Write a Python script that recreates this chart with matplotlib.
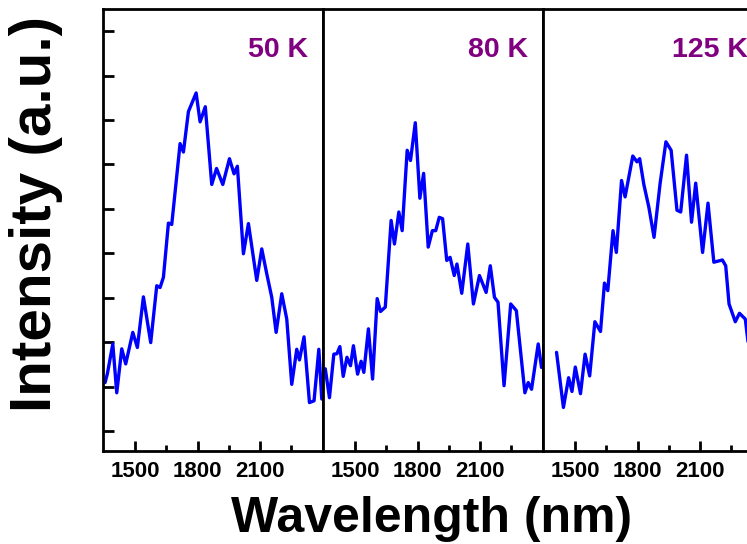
import matplotlib
matplotlib.use("Agg")
import matplotlib.pyplot as plt
from matplotlib.ticker import MultipleLocator

# ---------- data ----------

temps = ["50 K", "80 K", "125 K"]

wl_50 = [1356, 1367, 1393, 1412, 1436, 1455, 1489, 1511, 1540, 1575, 1604, 1620,
         1636, 1660, 1676, 1716, 1732, 1756, 1793, 1812, 1837, 1868, 1891, 1921,
         1953, 1975, 1991, 2020, 2044, 2084, 2108, 2132, 2156, 2177, 2204, 2228,
         2252, 2276, 2289, 2311, 2337, 2359, 2382, 2396]
int_50 = [1.09, 1.29, 1.96, 0.86, 1.85, 1.51, 2.22, 1.88, 3.02, 1.99, 3.27, 3.23,
          3.46, 4.68, 4.65, 6.47, 6.28, 7.19, 7.61, 6.96, 7.30, 5.55, 5.91, 5.55,
          6.13, 5.79, 5.96, 3.99, 4.67, 3.39, 4.10, 3.54, 3.01, 2.22, 3.09, 2.52,
          1.05, 1.84, 1.60, 2.12, 0.64, 0.68, 1.84, 0.72]

wl_80 = [1357, 1377, 1398, 1413, 1427, 1443, 1461, 1478, 1492, 1512, 1529, 1542,
         1564, 1584, 1606, 1622, 1645, 1673, 1689, 1710, 1726, 1750, 1766, 1789,
         1811, 1829, 1851, 1871, 1887, 1904, 1920, 1940, 1956, 1976, 1989, 2012,
         2041, 2068, 2097, 2129, 2149, 2169, 2186, 2215, 2247, 2274, 2315, 2331,
         2347, 2379, 2395]
int_80 = [1.40, 0.75, 1.73, 1.74, 1.90, 1.23, 1.66, 1.47, 1.92, 1.28, 1.57, 1.32,
          2.30, 1.17, 2.98, 2.69, 2.79, 4.74, 4.21, 4.93, 4.51, 6.32, 6.09, 6.94,
          5.24, 5.80, 4.14, 4.51, 4.51, 4.81, 4.78, 3.84, 3.91, 3.50, 3.76, 3.10,
          4.21, 2.86, 3.50, 3.12, 3.72, 3.01, 2.90, 1.02, 2.86, 2.71, 0.86, 1.09,
          0.94, 1.96, 1.43]

wl_125 = [1411, 1444, 1469, 1485, 1501, 1526, 1548, 1570, 1595, 1622, 1641, 1657,
          1682, 1698, 1723, 1740, 1777, 1797, 1810, 1830, 1854, 1879, 1908, 1936,
          1961, 1989, 2007, 2035, 2059, 2079, 2112, 2138, 2166, 2207, 2223, 2239,
          2269, 2289, 2317, 2341, 2355, 2375]
int_125 = [1.77, 0.53, 1.20, 0.89, 1.44, 0.84, 1.73, 1.24, 2.46, 2.24, 3.33, 3.16,
           4.51, 4.02, 5.64, 5.27, 6.19, 6.06, 6.13, 5.55, 5.04, 4.36, 5.57, 6.51,
           6.32, 4.97, 4.93, 6.21, 4.70, 5.58, 4.02, 5.13, 3.80, 3.85, 3.72, 2.86,
           2.46, 2.65, 2.52, 1.58, 1.69, 1.55]

wavelengths = [wl_50, wl_80, wl_125]
intensities = [int_50, int_80, int_125]

x_major = [1500, 1800, 2100]
x_minor = [1650, 1950, 2250]

# ---------- figure ----------

plt.rcParams["font.family"] = "Liberation Sans"
plt.rcParams["font.weight"] = "bold"

fig = plt.figure(figsize=(7.47, 5.44), dpi=100)

W, H = 747, 544
panel_w = 220
top_px, bottom_px = 9, 451
lefts = [103, 323, 543]

for i, (wl, inten, label) in enumerate(zip(wavelengths, intensities, temps)):
    ax = fig.add_axes([lefts[i] / W, 1 - bottom_px / H,
                       panel_w / W, (bottom_px - top_px) / H])
    ax.plot(wl, inten, color="#0000ff", lw=2.4,
            solid_joinstyle="round", solid_capstyle="round")

    ax.set_xlim(1346, 2402)
    ax.set_ylim(-0.45, 9.5)

    ax.set_xticks(x_major)
    ax.set_xticks(x_minor, minor=True)
    ax.tick_params(axis="x", which="major", direction="in", length=7, width=2,
                   labelsize=16, pad=7)
    ax.tick_params(axis="x", which="minor", direction="in", length=4, width=2)

    if i == 0:
        ax.yaxis.set_major_locator(MultipleLocator(1))
        ax.tick_params(axis="y", which="major", direction="in", length=8,
                       width=2, labelleft=False)
    else:
        ax.set_yticks([])

    for lab in ax.get_xticklabels():
        lab.set_fontweight("bold")

    for sp in ax.spines.values():
        sp.set_linewidth(2)

    ax.text(0.93, 0.891, label, transform=ax.transAxes, ha="right",
            va="baseline", fontsize=20.5, fontweight="bold", color="#800080")

fig.text(36 / W, 1 - 214 / H, "Intensity (a.u.)", rotation=90, ha="center",
         va="center", fontsize=42, fontweight="bold")
fig.text(432 / W, 1 - 519 / H, "Wavelength (nm)", ha="center", va="center",
         fontsize=36, fontweight="bold")

fig.savefig("out.png", dpi=100)
